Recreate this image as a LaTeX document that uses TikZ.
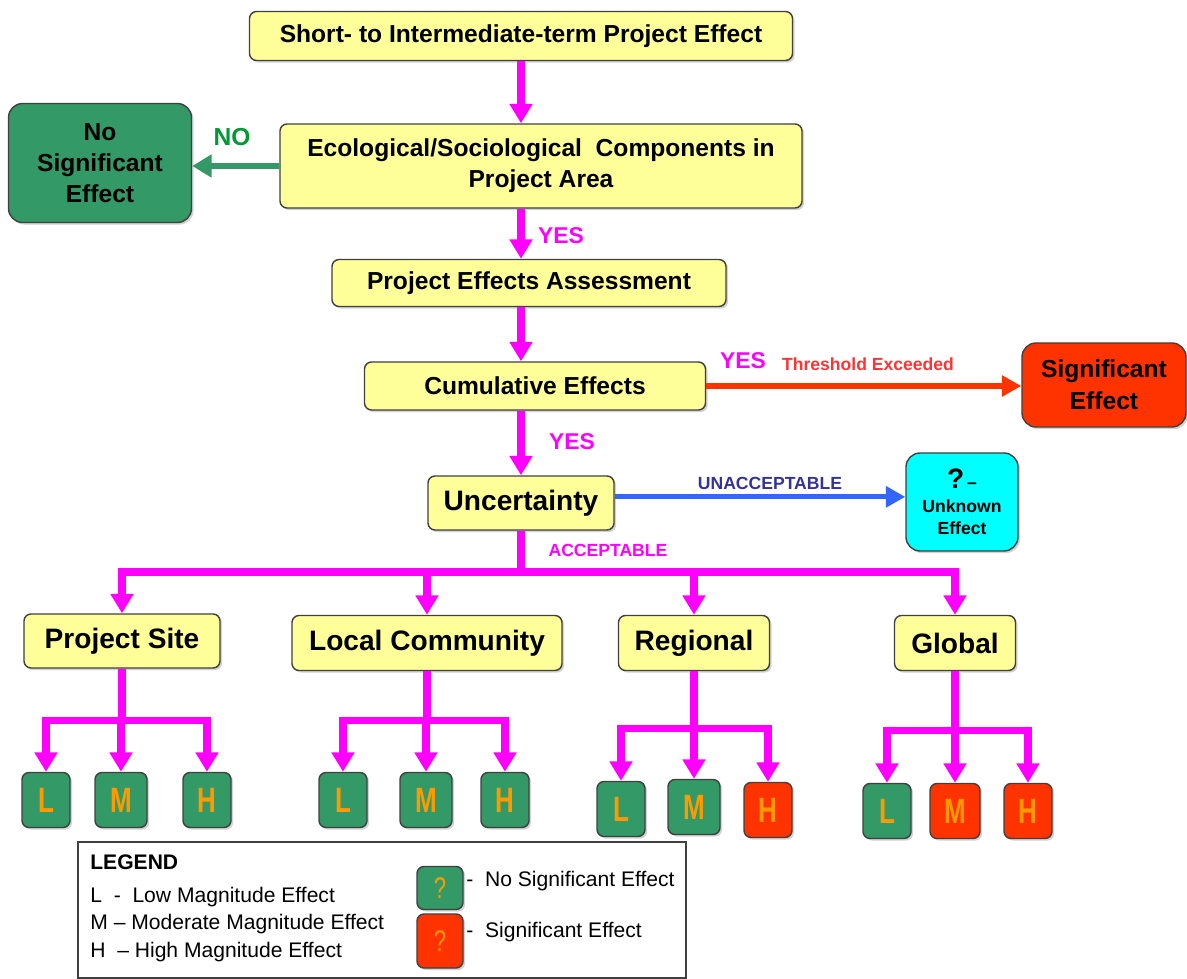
\documentclass[tikz,border=0pt]{standalone}
\usepackage{fontspec}
\setmainfont{Liberation Sans}
\usetikzlibrary{arrows.meta,shadows,calc}
\definecolor{ybox}{HTML}{FFFF99}
\definecolor{gbox}{HTML}{339966}
\definecolor{rbox}{HTML}{FF3300}
\definecolor{mag}{HTML}{FF00FF}
\definecolor{cyanb}{HTML}{00FFFF}
\definecolor{blarrow}{HTML}{3366FF}
\definecolor{navy}{HTML}{333399}
\definecolor{orng}{HTML}{FF9900}
\definecolor{bord}{HTML}{404040}
\definecolor{nogreen}{HTML}{009933}
\definecolor{thred}{HTML}{FF3333}
\newcommand{\narrowtxt}[1]{\scalebox{0.74}[1]{#1}}
\begin{document}
\begin{tikzpicture}[x=0.02cm,y=-0.02cm,
  wh/.style 2 args={minimum width=#1*0.02cm,minimum height=#2*0.02cm},
  base/.style={draw=bord,line width=0.8pt,rounded corners=4pt,inner sep=0pt,align=center,
    drop shadow={shadow xshift=1.2pt,shadow yshift=-1.2pt,fill=black!35}},
  ybx/.style={base,fill=ybox,font=\bfseries\fontsize{14}{17.6}\selectfont},
  ybig/.style={base,fill=ybox,font=\bfseries\fontsize{16}{19}\selectfont},
  gbx/.style={base,fill=gbox,rounded corners=8pt,font=\bfseries\fontsize{14}{17.6}\selectfont},
  rbx/.style={base,fill=rbox,rounded corners=8pt,font=\bfseries\fontsize{14}{18}\selectfont},
  sg/.style={base,fill=gbox,wh={48}{55},rounded corners=4pt,text=orng,font=\bfseries\fontsize{20}{21}\selectfont},
  sr/.style={sg,fill=rbox},
  lbl/.style={inner sep=0pt,font=\bfseries\fontsize{13}{15}\selectfont},
  slbl/.style={inner sep=0pt,font=\bfseries\fontsize{10}{12}\selectfont},
  ltxt/.style={inner sep=0pt,anchor=west,font=\fontsize{12}{14}\selectfont},
  mline/.style={draw=mag,line width=4pt},
  marrow/.style={mline,-{Triangle[width=12.5pt,length=11pt]}},
]
\useasboundingbox (0,0) rectangle (1187,979);

% main chain
\node[ybx,wh={543}{49}] (top) at (521,36) {Short- to Intermediate-term Project Effect};
\node[ybx,wh={522}{84}] (eco) at (541,166) {Ecological/Sociological\ \ Components in\\Project Area};
\node[gbx,wh={183}{119}] (nse) at (100,163) {No\\Significant\\Effect};
\node[ybx,wh={394}{47}] (pea) at (529,283) {Project Effects Assessment};
\node[ybx,wh={341}{48}] (cum) at (535,386) {Cumulative Effects};
\node[rbx,wh={164}{84}] (sig) at (1104,385) {Significant\\Effect};
\node[ybig,wh={186}{54}] (unc) at (521,503) {Uncertainty};
\node[base,fill=cyanb,rounded corners=8pt,wh={112}{98},font=\bfseries\fontsize{10}{12.5}\selectfont] (unk) at (962,502)
  {{\fontsize{16}{16}\selectfont ?}\,–\\[1pt]Unknown\\Effect};

\draw[marrow] (top.south) -- (eco.north -| top.south);
\draw[marrow] (eco.south -| top.south) -- (pea.north -| top.south);
\draw[marrow] (pea.south -| unc.north) -- (cum.north -| unc.north);
\draw[marrow] (cum.south -| unc.north) -- (unc.north);
\draw[draw=gbox,line width=3.4pt,-{Triangle[width=12.5pt,length=11pt]}] (eco.west) -- (eco.west -| nse.east);
\draw[draw=rbox,line width=3pt,-{Triangle[width=11.5pt,length=11pt]}] (cum.east) -- (cum.east -| sig.west);
\draw[draw=blarrow,line width=3pt,-{Triangle[width=11.5pt,length=11pt]}] ([yshift=3.5pt]unc.east) -- ([yshift=3.5pt]unc.east -| unk.west);

\node[lbl,text=nogreen,font=\bfseries\fontsize{14}{16}\selectfont] (lno) at (232,137) {NO};
\node[lbl,text=mag] (ly1) at (561,236) {YES};
\node[lbl,text=mag] (ly2) at (743,361) {YES};
\node[slbl,text=thred] (lth) at (868,364) {Threshold Exceeded};
\node[lbl,text=mag] (ly3) at (572,442) {YES};
\node[slbl,text=navy] (lun) at (770,483) {UNACCEPTABLE};
\node[slbl,text=mag] (lac) at (608,550) {ACCEPTABLE};

% level boxes
\node[ybig,wh={196}{54}] (ps) at (122,641) {Project Site};
\node[ybig,wh={270}{55}] (lc) at (427,643) {Local Community};
\node[ybig,wh={151}{55}] (reg) at (694,643) {Regional};
\node[ybig,wh={121}{55}] (glob) at (955,643) {Global};

\coordinate (J) at (521,572);
\draw[mline] (unc.south) -- (J);
\draw[marrow] (J) -| (ps.north);
\draw[marrow] (J) -| (lc.north);
\draw[marrow] (J) -| (reg.north);
\draw[marrow] (J) -| (glob.north);

% small boxes
\node[sg] (psL) at (46,800) {\narrowtxt{L}};
\node[sg,wh={52}{55}] (psM) at (121,800) {\narrowtxt{M}};
\node[sg] (psH) at (207,800) {\narrowtxt{H}};
\node[sg] (lcL) at (343,800) {\narrowtxt{L}};
\node[sg,wh={52}{55}] (lcM) at (426,800) {\narrowtxt{M}};
\node[sg] (lcH) at (505,800) {\narrowtxt{H}};
\node[sg] (rgL) at (621,809) {\narrowtxt{L}};
\node[sg,wh={52}{55}] (rgM) at (694,807) {\narrowtxt{M}};
\node[sr] (rgH) at (768,810) {\narrowtxt{H}};
\node[sg] (glL) at (887,811) {\narrowtxt{L}};
\node[sr,wh={50}{55}] (glM) at (955,811) {\narrowtxt{M}};
\node[sr] (glH) at (1028,811) {\narrowtxt{H}};

\coordinate (psj) at ($(ps.south)+(0,52)$);
\coordinate (lcj) at ($(lc.south)+(0,49)$);
\coordinate (rgj) at ($(reg.south)+(0,57)$);
\coordinate (glj) at ($(glob.south)+(0,59)$);
\foreach \p/\j in {ps/psj,lc/lcj,reg/rgj,glob/glj}{\draw[mline] (\p.south) -- (\j);}
\foreach \j/\a/\b/\c in {psj/psL/psM/psH,lcj/lcL/lcM/lcH,rgj/rgL/rgM/rgH,glj/glL/glM/glH}{
  \draw[marrow] (\j) -| (\a.north);
  \draw[marrow] (\j) -- (\j -| \b.north) -- (\b.north);
  \draw[marrow] (\j) -| (\c.north);
}

% legend
\node[draw=bord,line width=1.3pt,fill=white,inner sep=0pt,wh={608}{136},anchor=north west] (leg) at (77,841) {};
\node[ltxt,font=\bfseries\fontsize{12}{14}\selectfont] (legt) at (90,862) {LEGEND};
\node[ltxt] (l1) at (90,897) {L\ \ -\ \ Low Magnitude Effect};
\node[ltxt] (l2) at (90,924) {M – Moderate Magnitude Effect};
\node[ltxt] (l3) at (90,952) {H\ \ – High Magnitude Effect};
\node[sg,wh={46}{43},font=\fontsize{17}{18}\selectfont] (lg) at (440,888) {\narrowtxt{?}};
\node[sr,wh={46}{54},font=\fontsize{17}{18}\selectfont] (lr) at (440,941) {\narrowtxt{?}};
\node[ltxt] (lgt) at (466,881) {-\ \ No Significant Effect};
\node[ltxt] (lrt) at (466,932) {-\ \ Significant Effect};
\end{tikzpicture}
\end{document}
